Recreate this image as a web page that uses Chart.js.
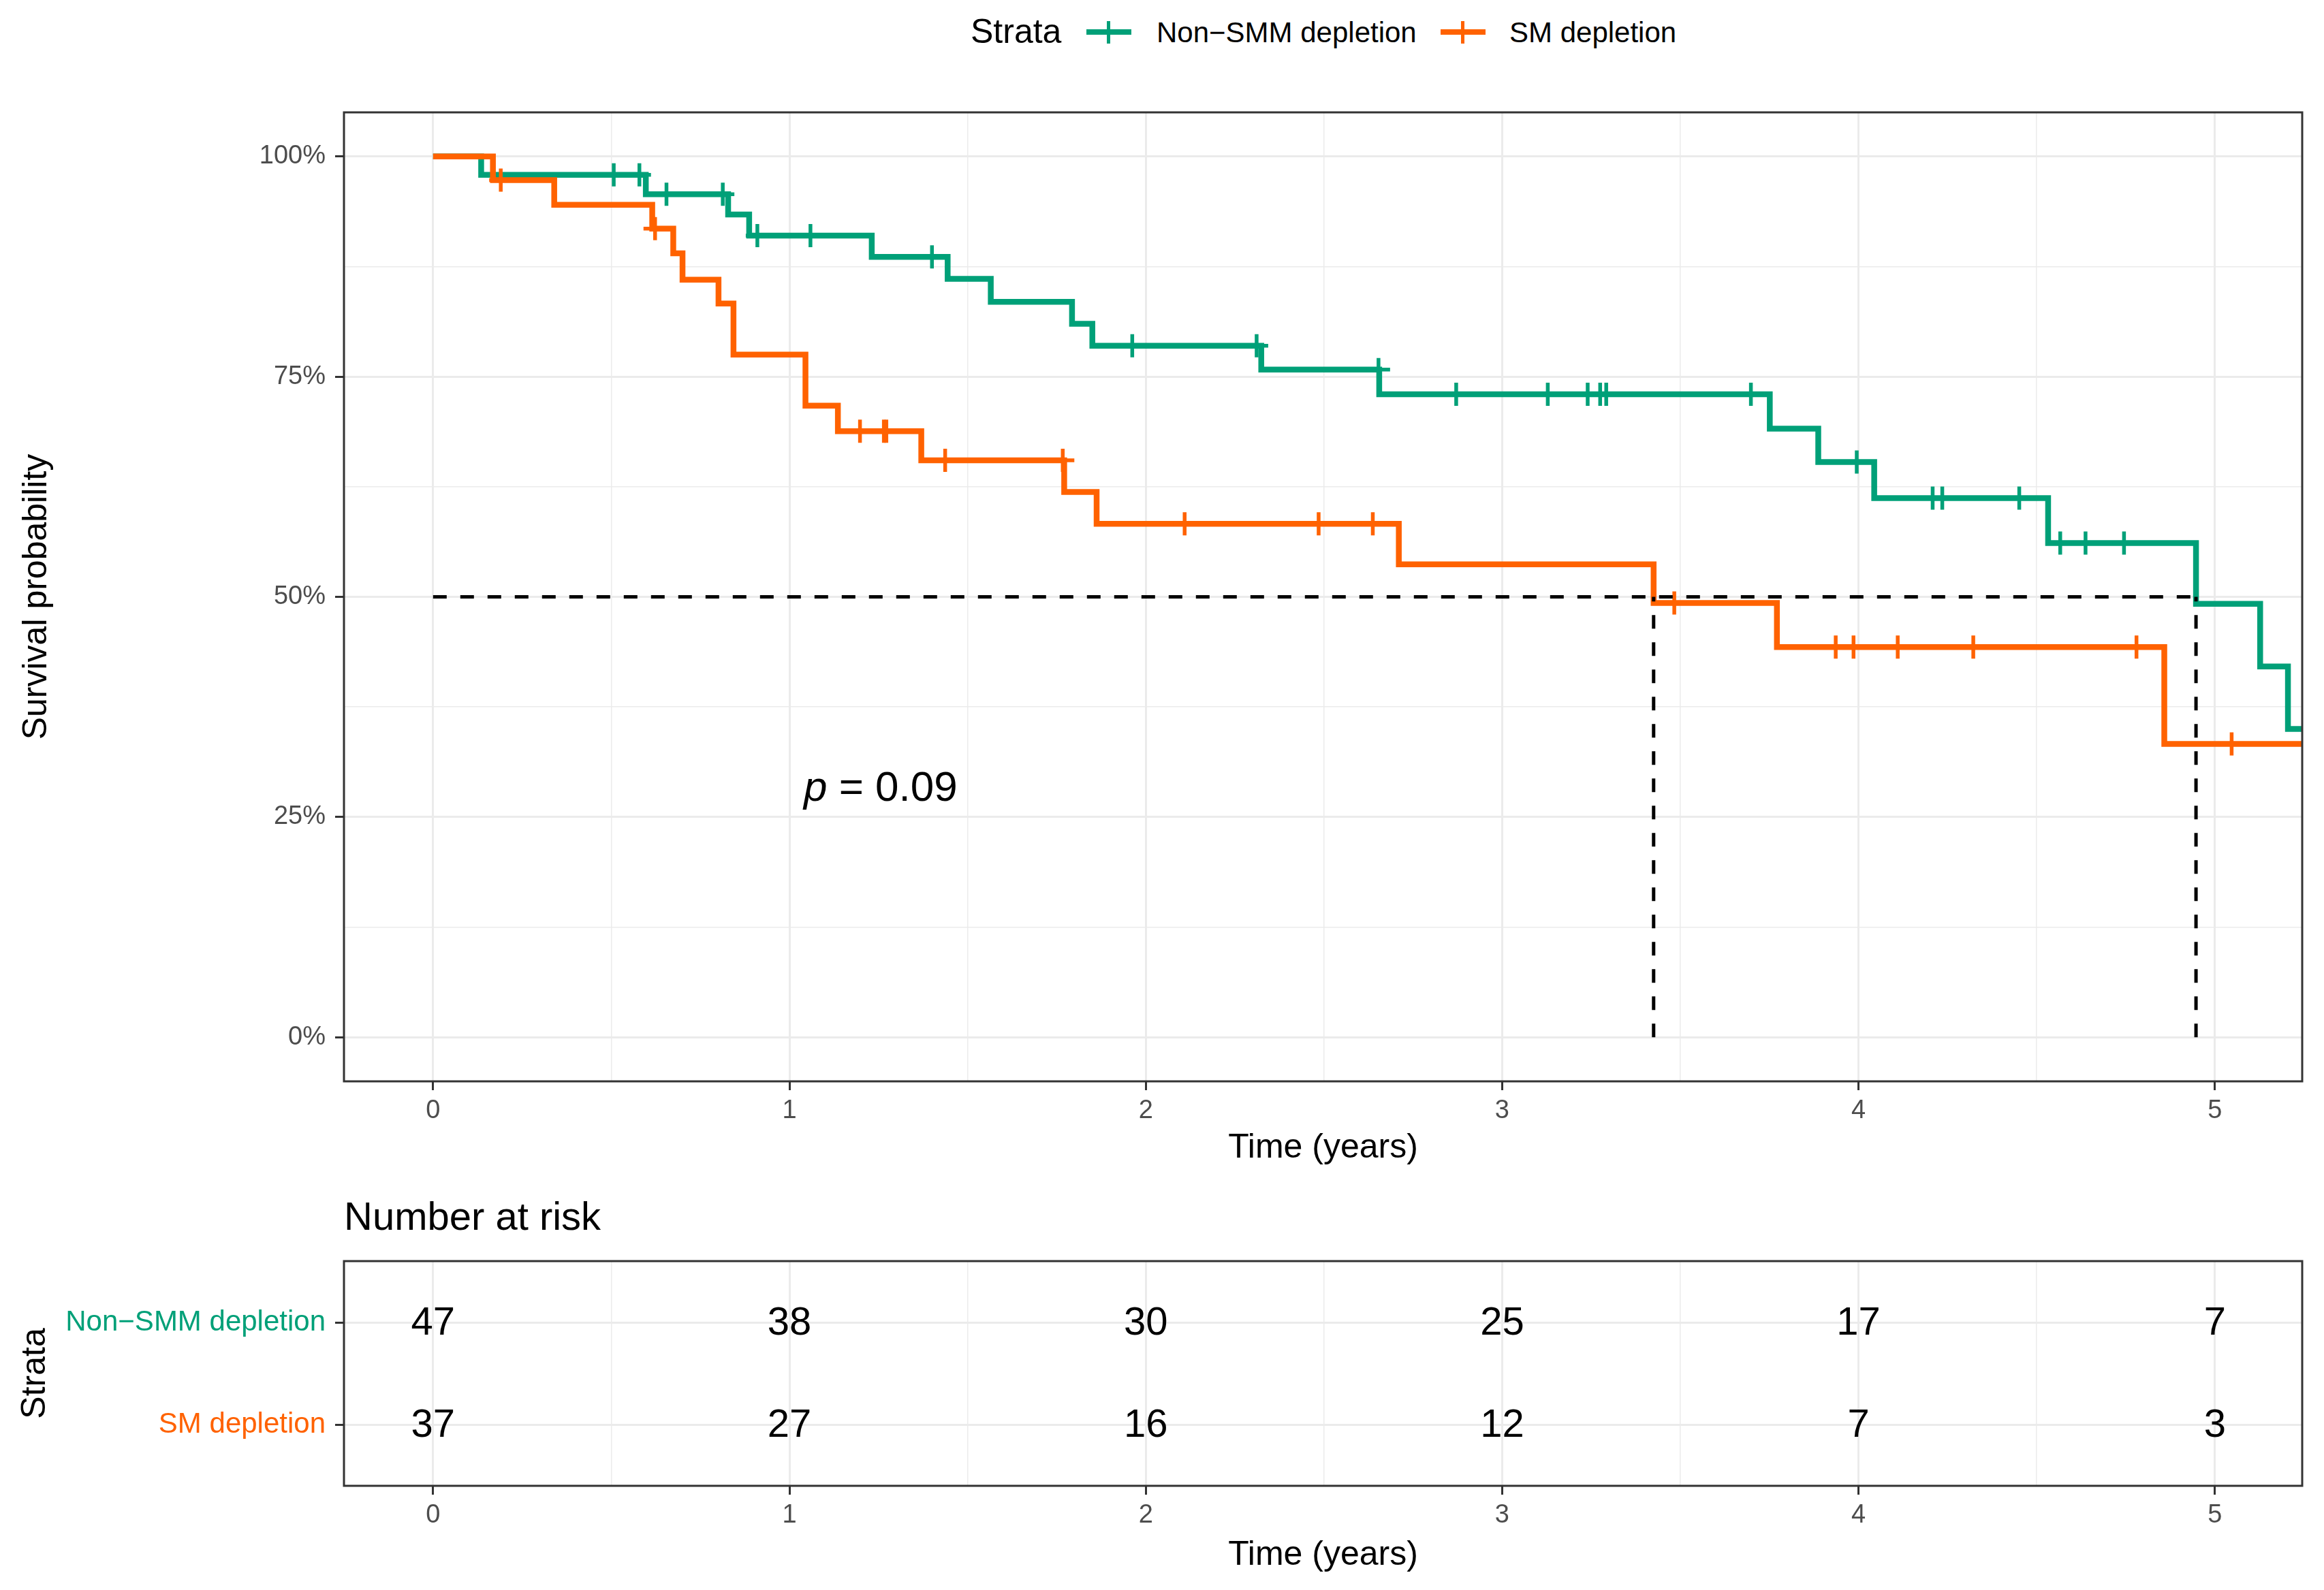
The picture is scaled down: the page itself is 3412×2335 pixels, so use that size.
<!DOCTYPE html>
<html>
<head>
<meta charset="utf-8">
<script src="https://cdn.jsdelivr.net/npm/chart.js@4.4.0/dist/chart.umd.min.js"></script>
<style>
  body { margin: 0; background: #fff; }
  #wrap { position: relative; width: 3412px; height: 2335px; font-family: "Liberation Sans", Arial, sans-serif; }
  canvas { position: absolute; left: 0; }
  .txt { position: absolute; white-space: nowrap; line-height: 1; color: #000; }
  .bar { position: absolute; }
</style>
</head>
<body>
<div id="wrap">
  <div class="txt" style="left:1425px;top:21px;font-size:50px;">Strata</div>
  <div class="bar" style="left:1595px;top:43px;width:66px;height:8px;background:#00A078;"></div>
  <div class="bar" style="left:1625px;top:31px;width:5px;height:33px;background:#00A078;"></div>
  <div class="txt" style="left:1698px;top:27px;font-size:42px;">Non−SMM depletion</div>
  <div class="bar" style="left:2115px;top:43px;width:66px;height:8px;background:#FF6200;"></div>
  <div class="bar" style="left:2145px;top:31px;width:5px;height:33px;background:#FF6200;"></div>
  <div class="txt" style="left:2216px;top:27px;font-size:42px;">SM depletion</div>
  <div class="txt" style="left:505px;top:1757px;font-size:58px;">Number at risk</div>
  <canvas id="km" width="3412" height="1760" style="top:0"></canvas>
  <canvas id="risk" width="3412" height="575" style="top:1760px"></canvas>
</div>
<script>
// Kaplan-Meier steps (years, survival probability)
var nonSmmTimes = [0, 0.135, 0.597, 0.828, 0.887, 1.231, 1.444, 1.565, 1.793, 1.850, 2.324, 2.655, 3.751, 3.887, 4.044, 4.532, 4.947, 5.127, 5.205, 5.245];
var nonSmmSurv = [1, 0.979, 0.957, 0.934, 0.910, 0.886, 0.861, 0.835, 0.810, 0.785, 0.758, 0.730, 0.691, 0.653, 0.612, 0.561, 0.492, 0.421, 0.350, 0.350];
var nonSmmCensor = [0.507, 0.579, 0.655, 0.813, 0.910, 1.059, 1.400, 1.962, 2.311, 2.653, 2.871, 3.128, 3.240, 3.275, 3.292, 3.698, 3.995, 4.208, 4.235, 4.451, 4.566, 4.637, 4.745];

var smTimes = [0, 0.168, 0.340, 0.615, 0.674, 0.700, 0.801, 0.843, 1.045, 1.136, 1.370, 1.771, 1.862, 2.710, 3.425, 3.771, 4.858, 5.245];
var smSurv = [1, 0.973, 0.945, 0.918, 0.890, 0.860, 0.833, 0.775, 0.717, 0.688, 0.655, 0.619, 0.583, 0.537, 0.493, 0.443, 0.333, 0.333];
var smCensor = [0.190, 0.623, 1.198, 1.265, 1.272, 1.437, 1.767, 2.109, 2.485, 2.637, 3.483, 3.936, 3.986, 4.110, 4.322, 4.780, 5.047];

var medianTimes = [4.947, 3.425];
var pValue = "0.09";

var strata = ["Non−SMM depletion", "SM depletion"];
var riskTimes = [0, 1, 2, 3, 4, 5];
var riskNonSmm = [47, 38, 30, 25, 17, 7];
var riskSm = [37, 27, 16, 12, 7, 3];

var xBreaks = [0, 1, 2, 3, 4, 5];
var xMinor = [0.5, 1.5, 2.5, 3.5, 4.5];
var yBreaks = [0, 0.25, 0.5, 0.75, 1];
var yMinor = [0.125, 0.375, 0.625, 0.875];

var green = "#00A078";
var orange = "#FF6200";
var fontFam = '"Liberation Sans", Arial, sans-serif';
Chart.defaults.font.family = fontFam;

function pts(times, surv) {
  return times.map(function (t, i) { return { x: t, y: surv[i] }; });
}
function levelAt(times, surv, t) {
  var v = surv[0];
  for (var i = 0; i < times.length; i++) if (times[i] <= t) v = surv[i];
  return v;
}
function censorPts(cens, times, surv) {
  return cens.map(function (t) { return { x: t, y: levelAt(times, surv, t) }; });
}
function setTicks(values) {
  return function (scale) {
    scale.ticks = values.slice().sort(function (a, b) { return a - b; }).map(function (v) { return { value: v }; });
  };
}
function grid(majors) {
  return {
    color: "#EBEBEB",
    lineWidth: function (c) { return c.tick && majors.indexOf(c.tick.value) >= 0 ? 3 : 1.5; },
    tickColor: function (c) { return c.tick && majors.indexOf(c.tick.value) >= 0 ? "#333333" : "rgba(0,0,0,0)"; },
    tickLength: 13,
    tickWidth: 3
  };
}

var frame = {
  id: "frame",
  afterDraw: function (chart) {
    var a = chart.chartArea, ctx = chart.ctx;
    ctx.save();
    ctx.strokeStyle = "#333333";
    ctx.lineWidth = 3;
    ctx.strokeRect(a.left, a.top, a.right - a.left, a.bottom - a.top);
    ctx.restore();
  }
};

var pvalLabel = {
  id: "pval",
  afterDatasetsDraw: function (chart) {
    var ctx = chart.ctx;
    var px = chart.scales.x.getPixelForValue(1.04);
    var py = chart.scales.y.getPixelForValue(0.2687);
    ctx.save();
    ctx.fillStyle = "#000";
    ctx.textBaseline = "alphabetic";
    ctx.font = "italic 62px " + fontFam;
    ctx.fillText("p", px, py);
    var w = ctx.measureText("p").width;
    ctx.font = "62px " + fontFam;
    ctx.fillText(" = " + pValue, px + w, py);
    ctx.restore();
  }
};

var maxMedian = Math.max.apply(null, medianTimes);
var dashed = { borderColor: "#000", borderWidth: 5, borderDash: [20, 20], pointRadius: 0, fill: false, order: 0 };
var medianSets = [Object.assign({ data: [{ x: 0, y: 0.5 }, { x: maxMedian, y: 0.5 }] }, dashed)].concat(
  medianTimes.map(function (m) { return Object.assign({ data: [{ x: m, y: 0 }, { x: m, y: 0.5 }] }, dashed); })
);

var tickFont = { size: 38 };
var titleFont = { size: 50 };

new Chart(document.getElementById("km"), {
  type: "line",
  data: {
    datasets: medianSets.concat([
      { data: censorPts(smCensor, smTimes, smSurv), showLine: false, pointStyle: "cross", pointRadius: 17, pointBorderWidth: 5.5, pointBorderColor: orange, order: 1 },
      { data: censorPts(nonSmmCensor, nonSmmTimes, nonSmmSurv), showLine: false, pointStyle: "cross", pointRadius: 17, pointBorderWidth: 5.5, pointBorderColor: green, order: 2 },
      { data: pts(smTimes, smSurv), stepped: true, borderColor: orange, borderWidth: 8.5, pointRadius: 0, fill: false, order: 3 },
      { data: pts(nonSmmTimes, nonSmmSurv), stepped: true, borderColor: green, borderWidth: 8.5, pointRadius: 0, fill: false, order: 4 }
    ])
  },
  options: {
    responsive: false,
    devicePixelRatio: 1,
    animation: false,
    events: [],
    layout: { padding: { left: 0, right: 32, top: 165, bottom: 0 } },
    plugins: { legend: { display: false }, tooltip: { enabled: false } },
    scales: {
      x: {
        type: "linear", position: "bottom", min: -0.25, max: 5.245,
        afterBuildTicks: setTicks(xBreaks.concat(xMinor)),
        afterFit: function (s) { s.height = 172; },
        grid: grid(xBreaks),
        border: { display: false },
        ticks: { autoSkip: false, maxRotation: 0, padding: 8, color: "#4D4D4D", font: tickFont,
          callback: function (v) { return xBreaks.indexOf(v) >= 0 ? String(v) : ""; } },
        title: { display: true, text: "Time (years)", color: "#000", font: titleFont, padding: { top: 0, bottom: 44 } }
      },
      y: {
        type: "linear", min: -0.05, max: 1.05,
        afterBuildTicks: setTicks(yBreaks.concat(yMinor)),
        afterFit: function (s) { s.width = 505; },
        grid: grid(yBreaks),
        border: { display: false },
        ticks: { autoSkip: false, padding: 14, color: "#4D4D4D", font: tickFont,
          callback: function (v) { return yBreaks.indexOf(v) >= 0 ? Math.round(v * 100) + "%" : ""; } },
        title: { display: true, text: "Survival probability", color: "#000", font: titleFont, padding: { top: 24, bottom: 0 } }
      }
    }
  },
  plugins: [frame, pvalLabel]
});

// risk table
var riskRows = [2, 1];
var riskNumbers = {
  id: "riskNumbers",
  afterDatasetsDraw: function (chart) {
    var ctx = chart.ctx;
    var counts = [riskNonSmm, riskSm];
    ctx.save();
    ctx.fillStyle = "#000";
    ctx.font = "58px " + fontFam;
    ctx.textAlign = "center";
    ctx.textBaseline = "middle";
    counts.forEach(function (arr, d) {
      chart.getDatasetMeta(d).data.forEach(function (el, i) {
        ctx.fillText(String(arr[i]), el.x, el.y + 2);
      });
    });
    ctx.restore();
  }
};

new Chart(document.getElementById("risk"), {
  type: "line",
  data: {
    datasets: riskRows.map(function (r) {
      return { data: riskTimes.map(function (t) { return { x: t, y: r }; }), showLine: false, pointRadius: 0 };
    })
  },
  options: {
    responsive: false,
    devicePixelRatio: 1,
    animation: false,
    events: [],
    layout: { padding: { left: 0, right: 32, top: 92, bottom: 0 } },
    plugins: { legend: { display: false }, tooltip: { enabled: false } },
    scales: {
      x: {
        type: "linear", position: "bottom", min: -0.25, max: 5.245,
        afterBuildTicks: setTicks(xBreaks.concat(xMinor)),
        afterFit: function (s) { s.height = 153; },
        grid: grid(xBreaks),
        border: { display: false },
        ticks: { autoSkip: false, maxRotation: 0, padding: 8, color: "#4D4D4D", font: tickFont,
          callback: function (v) { return xBreaks.indexOf(v) >= 0 ? String(v) : ""; } },
        title: { display: true, text: "Time (years)", color: "#000", font: titleFont, padding: { top: 0, bottom: 21 } }
      },
      y: {
        type: "linear", min: 0.4, max: 2.6,
        afterBuildTicks: setTicks(riskRows),
        afterFit: function (s) { s.width = 505; },
        grid: grid(riskRows),
        border: { display: false },
        ticks: { autoSkip: false, padding: 14, font: { size: 42 },
          color: function (c) { return c.tick && c.tick.value === riskRows[0] ? green : orange; },
          callback: function (v) { return strata[riskRows.indexOf(v)]; } },
        title: { display: true, text: "Strata", color: "#000", font: titleFont, padding: { top: 22, bottom: 0 } }
      }
    }
  },
  plugins: [frame, riskNumbers]
});
</script>
</body>
</html>
